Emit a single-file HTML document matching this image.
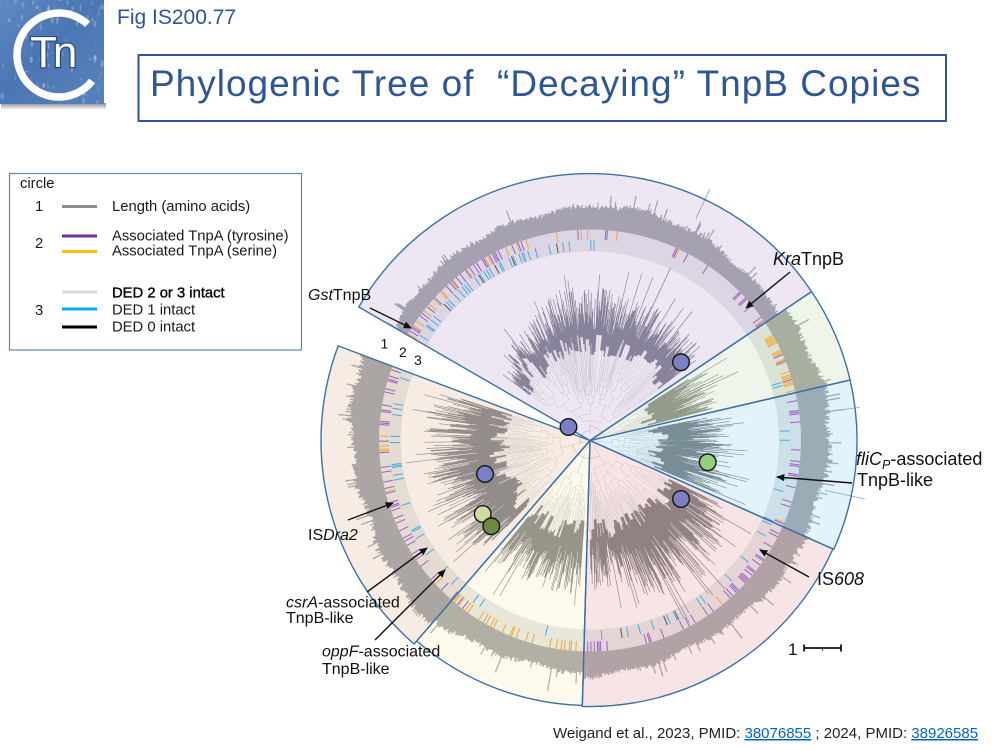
<!DOCTYPE html>
<html><head><meta charset="utf-8"><title>Phylogenic Tree of Decaying TnpB Copies</title>
<style>
html,body{margin:0;padding:0;background:#fff;}
body{width:1000px;height:750px;overflow:hidden;position:relative;}
svg{position:absolute;left:0;top:0;display:block;}
text{font-family:"Liberation Sans",Arial,sans-serif;}
</style></head>
<body>
<svg id="cv" width="1000" height="750" viewBox="0 0 1000 750" xmlns="http://www.w3.org/2000/svg">
<defs>
<linearGradient id="lg" x1="0" y1="0" x2="1" y2="1">
<stop offset="0" stop-color="#6089c2"/><stop offset="0.45" stop-color="#4a76b3"/><stop offset="1" stop-color="#5882bc"/>
</linearGradient>
<linearGradient id="shb" x1="0" y1="0" x2="0" y2="1">
<stop offset="0" stop-color="#8f8f8f"/><stop offset="1" stop-color="#f0f0f0"/>
</linearGradient>
<marker id="ah" viewBox="0 0 10 10" refX="9" refY="5" markerUnits="userSpaceOnUse" markerWidth="9" markerHeight="8" orient="auto"><path d="M0,0.5 L10,5 L0,9.5 z" fill="#111"/></marker>
</defs>

<!-- logo -->
<rect x="1" y="103" width="105" height="6" fill="url(#shb)"/>
<rect x="0" y="0" width="104" height="104" fill="url(#lg)"/>
<g id="speck"></g>
<path d="M92.1,80.9 A42,42 0 1 1 87.6,24.3" fill="none" stroke="#fff" stroke-width="7.5"/>
<text x="30" y="67" font-size="44" fill="#fff" stroke="#27487a" stroke-width="2.4" paint-order="stroke" letter-spacing="-4">Tn</text>

<!-- header -->
<text x="117" y="24" font-size="21" fill="#2f5597">Fig IS200.77</text>
<rect x="138.5" y="55" width="807.5" height="66" fill="none" stroke="#2f5597" stroke-width="2"/>
<text x="150" y="96" font-size="37" fill="#2f5597" letter-spacing="1">Phylogenic Tree of&#160; “Decaying” TnpB Copies</text>

<!-- legend -->
<rect x="9.5" y="173.5" width="292" height="176.5" fill="#fff" stroke="#5a87bb" stroke-width="1.2"/>
<g font-size="14.8" fill="#1a1a1a">
<text x="20" y="188">circle</text>
<text x="35" y="211">1</text>
<text x="35" y="248">2</text>
<text x="35" y="315">3</text>
<text x="112" y="211">Length (amino acids)</text>
<text x="112" y="240.5">Associated TnpA (tyrosine)</text>
<text x="112" y="255.5">Associated TnpA (serine)</text>
<text x="112" y="297.5" fill="#000" stroke="#000" stroke-width="0.35">DED 2 or 3 intact</text>
<text x="112" y="314.5">DED 1 intact</text>
<text x="112" y="331.5">DED 0 intact</text>
</g>
<g stroke-width="3">
<line x1="62" y1="206.5" x2="97" y2="206.5" stroke="#8c8c8c"/>
<line x1="62" y1="236" x2="97" y2="236" stroke="#7030a0"/>
<line x1="62" y1="251.5" x2="97" y2="251.5" stroke="#ffc000"/>
<line x1="62" y1="292" x2="97" y2="292" stroke="#d9d9d9"/>
<line x1="62" y1="309" x2="97" y2="309" stroke="#00b0f0"/>
<line x1="62" y1="327" x2="97" y2="327" stroke="#000"/>
</g>

<!-- sectors -->
<g>
<path d="M590,440.5 L358.8,307.0 A267,267 0 0 1 811.6,291.6 Z" fill="#eee7f3"/>
<path d="M590,440.5 L811.6,291.6 A267,267 0 0 1 850.1,380.0 Z" fill="#eff5ea"/>
<path d="M590,440.5 L850.1,380.0 A267,267 0 0 1 833.8,549.4 Z" fill="#e3f3fb"/>
<path d="M590,440.5 L832.9,549.0 A266,266 0 0 1 582.3,706.4 Z" fill="#f7e5e6"/>
<path d="M590,440.5 L582.3,705.4 A265,265 0 0 1 416.7,641.0 Z" fill="#fdf9eb"/>
<path d="M590,440.5 L414.1,644.0 A269,269 0 0 1 338.2,345.9 Z" fill="#f6ece3"/>
</g>
<g id="tex"></g>
<g fill="none" stroke="#3d70a6" stroke-width="1.4" stroke-linejoin="round">
<path d="M590,440.5 L358.8,307.0 A267,267 0 0 1 811.6,291.6 Z"/>
<path d="M590,440.5 L811.6,291.6 A267,267 0 0 1 850.1,380.0 Z"/>
<path d="M590,440.5 L850.1,380.0 A267,267 0 0 1 833.8,549.4 Z"/>
<path d="M590,440.5 L832.9,549.0 A266,266 0 0 1 582.3,706.4 Z"/>
<path d="M590,440.5 L582.3,705.4 A265,265 0 0 1 416.7,641.0 Z"/>
<path d="M590,440.5 L414.1,644.0 A269,269 0 0 1 338.2,345.9 Z"/>
</g>

<!-- dots -->
<g stroke="#151515" stroke-width="1.4">
<circle cx="568.5" cy="427" r="8.3" fill="#7a7fc6"/>
<circle cx="681" cy="362.3" r="8.3" fill="#7a7fc6"/>
<circle cx="707.7" cy="462.3" r="8.3" fill="#93d07d"/>
<circle cx="681" cy="499" r="8.3" fill="#7a7fc6"/>
<circle cx="485" cy="474" r="8.3" fill="#7a7fc6"/>
<circle cx="482.7" cy="514" r="8.3" fill="#cfdb9f"/>
<circle cx="491.3" cy="526.3" r="8.3" fill="#6f8a44"/>
</g>

<!-- arrows -->
<g stroke="#111" stroke-width="1.4" marker-end="url(#ah)">
<line x1="370" y1="308" x2="411" y2="328"/>
<line x1="790" y1="272" x2="746" y2="308"/>
<line x1="852" y1="483" x2="777" y2="477"/>
<line x1="809" y1="577" x2="760" y2="550"/>
<line x1="348" y1="520" x2="393" y2="503"/>
<line x1="367" y1="592" x2="427" y2="548"/>
<line x1="375" y1="640" x2="445" y2="570"/>
</g>

<!-- labels -->
<g fill="#111">
<text x="308" y="300" font-size="16"><tspan font-style="italic">Gst</tspan>TnpB</text>
<text x="773" y="265" font-size="18"><tspan font-style="italic">Kra</tspan>TnpB</text>
<text x="856" y="465" font-size="18"><tspan font-style="italic">fliC</tspan><tspan font-style="italic" font-size="12.5" dy="4">P</tspan><tspan dy="-4">-associated</tspan></text>
<text x="857" y="486" font-size="18">TnpB-like</text>
<text x="817" y="585" font-size="18">IS<tspan font-style="italic">608</tspan></text>
<text x="308" y="540" font-size="16">IS<tspan font-style="italic">Dra2</tspan></text>
<text x="286" y="607.5" font-size="16"><tspan font-style="italic">csrA</tspan>-associated</text>
<text x="286" y="623" font-size="16">TnpB-like</text>
<text x="322" y="656.5" font-size="16"><tspan font-style="italic">oppF</tspan>-associated</text>
<text x="322" y="674" font-size="16">TnpB-like</text>
<text x="380.5" y="348.5" font-size="14">1</text>
<text x="399" y="357" font-size="14">2</text>
<text x="414" y="365" font-size="14">3</text>
<text x="788" y="655" font-size="17">1</text>
</g>
<g stroke="#111" stroke-width="1.8">
<line x1="804" y1="648" x2="841" y2="648"/>
<line x1="804" y1="644.5" x2="804" y2="651.5"/>
<line x1="841" y1="644.5" x2="841" y2="651.5"/>
<line x1="822.5" y1="648" x2="822.5" y2="650.5" stroke-width="1"/>
</g>

<!-- citation -->
<text x="553" y="738" font-size="15" fill="#222">Weigand et al., 2023, PMID: <tspan fill="#0563c1" style="text-decoration:underline">38076855</tspan> ; 2024, PMID: <tspan fill="#0563c1" style="text-decoration:underline">38926585</tspan></text>
</svg>

<script>
(function(){
var NS="http://www.w3.org/2000/svg";
var CX=590, CY=440.5;
var s=20240611;
function rnd(){s=(s+0x6D2B79F5)|0;var t=Math.imul(s^(s>>>15),1|s);t=(t+Math.imul(t^(t>>>7),61|t))^t;return((t^(t>>>14))>>>0)/4294967296;}
function P(r,a){var t=a*Math.PI/180;return (CX+r*Math.cos(t)).toFixed(1)+","+(CY+r*Math.sin(t)).toFixed(1);}
function add(parent,tag,attrs){var e=document.createElementNS(NS,tag);for(var k in attrs)e.setAttribute(k,attrs[k]);parent.appendChild(e);return e;}
function annulus(r1,r2,a0,a1){return "M"+P(r2,a0)+"A"+r2+","+r2+" 0 0 1 "+P(r2,a1)+"L"+P(r1,a1)+"A"+r1+","+r1+" 0 0 0 "+P(r1,a0)+"Z";}

/* logo speckles */
var sp=document.getElementById("speck");
for(var i=0;i<110;i++){
  add(sp,"ellipse",{cx:(rnd()*103).toFixed(1),cy:(rnd()*103).toFixed(1),rx:(0.4+rnd()*1.3).toFixed(1),ry:(0.8+rnd()*3.5).toFixed(1),fill:"#fff","fill-opacity":(0.06+rnd()*0.28).toFixed(2)});
}

var g=document.getElementById("tex");
var PUR="#9a62c0", ORA="#f4a73a", CYA="#45aee3";
var SEC=[
{a0:210.0,a1:326.1,R:267,band:"#dcd5e3",hist:"#a6a1b1",tree:"#88839a",tl:"#bdb7c4",
 hb:function(t){return t<0.3?14+13*(t/0.3):27-5*(t-0.3);},
 p2:function(a){return a<250?0.42:(a<292?0.09:0.16);},
 or:function(a){return a<250?0.3:(a<292?0.6:0.12);},
 p3:function(a){return a<252?0.3:(a<292?0.05:0.04);},
 ta0:217,ta1:323,r0:20,lmin:function(t){return 55+30*Math.min(1,t/0.35);},
 env:function(t){return t<0.4?100+55*(t/0.4):155-15*(t-0.4);}},
{a0:326.1,a1:346.9,R:267,band:"#dce3d6",hist:"#a7afa1",tree:"#939b8c",tl:"#c0c6ba",
 hb:function(){return 32;},p2:function(){return 0.5;},or:function(){return 0.92;},p3:function(){return 0.06;},
 ta0:328,ta1:345.5,r0:22,lmin:function(){return 52;},env:function(){return 140;}},
{a0:346.9,a1:384.08,R:267,band:"#cddfe7",hist:"#9aadb6",tree:"#798d96",tl:"#b3c4cb",
 hb:function(){return 30;},p2:function(){return 0.22;},or:function(){return 0.05;},p3:function(){return 0.12;},
 ta0:349,ta1:382.5,r0:22,lmin:function(){return 58;},env:function(){return 145;}},
{a0:24.08,a1:91.67,R:266,band:"#e5d4d6",hist:"#b1a2a5",tree:"#918183",tl:"#c9bcbe",
 hb:function(){return 26;},p2:function(a){return a<48?0.38:0.2;},or:function(){return 0.06;},p3:function(){return 0.1;},
 ta0:26,ta1:90,r0:28,lmin:function(){return 78;},env:function(t){return 150+32*Math.sin(Math.PI*Math.min(1,t*1.2));}},
{a0:91.67,a1:130.84,R:265,band:"#e9e6da",hist:"#b2afa5",tree:"#97948a",tl:"#cac7bd",
 hb:function(){return 27;},p2:function(){return 0.32;},or:function(){return 0.85;},p3:function(){return 0.1;},
 ta0:94,ta1:129,r0:35,lmin:function(){return 80;},env:function(){return 155;}},
{a0:130.84,a1:200.6,R:269,band:"#e4dbd3",hist:"#aba6a3",tree:"#928d8a",tl:"#c9c2bc",
 hb:function(){return 33;},p2:function(){return 0.26;},or:function(){return 0.15;},p3:function(){return 0.13;},
 ta0:134,ta1:198,r0:30,lmin:function(){return 80;},env:function(t){return 160+12*Math.sin(Math.PI*t);}}
];

var bandG=add(g,"g",{}), tickG=add(g,"g",{"stroke-width":"1"}), histG=add(g,"g",{}), treeG=add(g,"g",{fill:"none"});

SEC.forEach(function(S){
  /* band */
  add(bandG,"path",{d:annulus(189,211,S.a0,S.a1),fill:S.band});
  /* ticks */
  var dP="",dO="",dC="",dK="";
  for(var a=S.a0+0.4;a<S.a1-0.3;a+=0.45){
    var an=((a%360)+360)%360;
    if(rnd()<S.p2(an)){
      var seg="M"+P(201,a)+"L"+P(211,a);
      if(rnd()<S.or(an))dO+=seg;else dP+=seg;
    }
    if(rnd()<S.p3(an)){
      var seg3="M"+P(190,a)+"L"+P(200,a);
      if(rnd()<0.1)dK+=seg3;else dC+=seg3;
    }
  }
  if(dP)add(tickG,"path",{d:dP,stroke:PUR});
  if(dO)add(tickG,"path",{d:dO,stroke:ORA});
  if(dC)add(tickG,"path",{d:dC,stroke:CYA});
  if(dK)add(tickG,"path",{d:dK,stroke:"#555"});
  /* histogram */
  var ph=rnd()*6, ph2=rnd()*6, st=0.3;
  var d="M"+P(211,S.a0);
  for(var a=S.a0;a<S.a1-0.01;a+=st){
    var a2=Math.min(a+st,S.a1);
    var t=(a-S.a0)/(S.a1-S.a0);
    var h=S.hb(t)*(0.88+0.12*Math.sin(a*0.09+ph)+0.07*Math.sin(a*0.37+ph2))*(0.86+0.2*rnd());
    if(rnd()<0.08)h+=rnd()*12;
    if(rnd()<0.012)h+=10+rnd()*14;
    h=Math.min(h,S.R-211-2);
    d+="L"+P(211+h,a)+"L"+P(211+h,a2);
  }
  d+="L"+P(211,S.a1)+"A211,211 0 0 0 "+P(211,S.a0)+"Z";
  add(histG,"path",{d:d,fill:S.hist});
  /* tree */
  var leafD="", intD="";
  function tree(a0,a1,r,depth){
    var span=a1-a0;
    if(span<0.7+rnd()*2.6||depth>11){
      var mid=(a0+a1)/2;
      var tm=Math.max(0,Math.min(1,(mid-S.ta0)/(S.ta1-S.ta0)));
      var rl=Math.max(r,S.lmin(tm)+rnd()*22);
      if(rl>r+0.5)intD+="M"+P(r,mid)+"L"+P(rl,mid);
      var n=Math.max(1,Math.round(span/0.26));
      for(var i=0;i<n;i++){
        var a=a0+(i+0.5)*span/n;
        var tt=Math.max(0,Math.min(1,(a-S.ta0)/(S.ta1-S.ta0)));
        var e=S.env(tt);
        var re=rl+(e-rl)*(0.3+0.7*rnd());
        if(rnd()<0.04)re=e*(1.02+0.16*rnd());
        if(re<rl+6)re=rl+6+rnd()*12;
        leafD+="M"+P(rl,a)+"L"+P(re,a);
      }
      if(n>1)intD+="M"+P(rl,a0+span/(2*n))+"A"+rl.toFixed(1)+","+rl.toFixed(1)+" 0 0 1 "+P(rl,a1-span/(2*n));
      return;
    }
    var am=a0+span*(0.25+0.5*rnd());
    var m1=(a0+am)/2,m2=(am+a1)/2;
    var r1=r+3+rnd()*9, r2=r+3+rnd()*9;
    intD+="M"+P(r,m1)+"A"+r.toFixed(1)+","+r.toFixed(1)+" 0 0 1 "+P(r,m2);
    intD+="M"+P(r,m1)+"L"+P(r1,m1)+"M"+P(r,m2)+"L"+P(r2,m2);
    tree(a0,am,r1,depth+1);tree(am,a1,r2,depth+1);
  }
  var midS=(S.ta0+S.ta1)/2;
  intD+="M"+P(6,midS)+"L"+P(S.r0,midS);
  tree(S.ta0,S.ta1,S.r0,0);
  add(treeG,"path",{d:intD,stroke:S.tl,"stroke-width":"0.45"});
  add(treeG,"path",{d:leafD,stroke:S.tree,"stroke-width":"0.65"});
});
/* a few root arcs and long lines */
var extra="M"+P(14,268)+"A14,14 0 0 1 "+P(14,336)+"M"+P(18,58)+"A18,18 0 0 1 "+P(18,166)+"M"+P(10,166)+"A10,10 0 0 1 "+P(10,268);
add(treeG,"path",{d:extra,stroke:"#b5b0b8","stroke-width":"0.6"});
add(treeG,"path",{d:"M"+P(100,295)+"L"+P(190,295),stroke:"#8c8799","stroke-width":"0.8"});
add(histG,"path",{d:"M"+P(246,295.5)+"L"+P(279,295.5),stroke:"#a6a1b1","stroke-width":"0.9"});
add(histG,"path",{d:"M"+P(240,12)+"L"+P(281,12)+"M"+P(240,353)+"L"+P(272,353),stroke:"#9aadb6","stroke-width":"0.9"});
})();
</script>
</body></html>
